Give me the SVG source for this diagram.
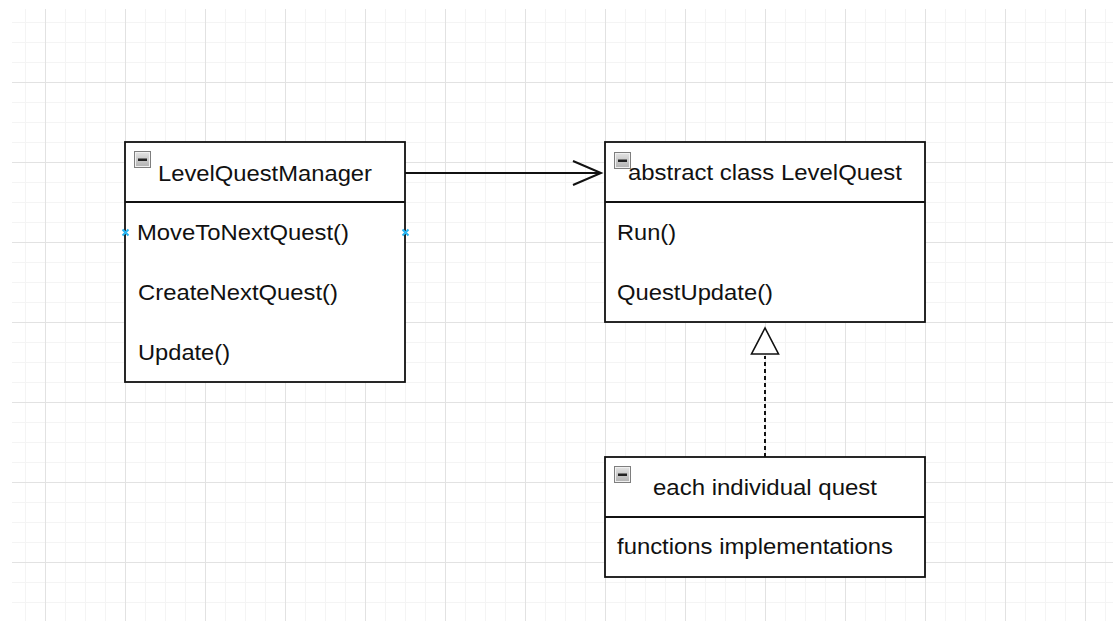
<svg xmlns="http://www.w3.org/2000/svg" width="1113" height="621" viewBox="0 0 1113 621">
  <defs>
    <pattern id="grid" patternUnits="userSpaceOnUse" x="45" y="2" width="80" height="80">
      <rect x="20" y="0" width="1" height="80" fill="#f4f4f4"/>
      <rect x="40" y="0" width="1" height="80" fill="#f4f4f4"/>
      <rect x="60" y="0" width="1" height="80" fill="#f4f4f4"/>
      <rect x="0" y="20" width="80" height="1" fill="#f4f4f4"/>
      <rect x="0" y="40" width="80" height="1" fill="#f4f4f4"/>
      <rect x="0" y="60" width="80" height="1" fill="#f4f4f4"/>
      <rect x="0" y="0" width="1" height="80" fill="#e2e2e2"/>
      <rect x="0" y="0" width="80" height="1" fill="#e2e2e2"/>
    </pattern>
    <linearGradient id="iconGrad" x1="0" y1="0" x2="0" y2="1">
      <stop offset="0" stop-color="#e4e4e4"/>
      <stop offset="1" stop-color="#b0b0b0"/>
    </linearGradient>
    <g id="collapse">
      <rect x="0.5" y="0.5" width="16" height="16" fill="url(#iconGrad)" stroke="#7e7e7e" stroke-width="1"/>
      <rect x="1.5" y="1.5" width="14" height="14" fill="none" stroke="#f0f0f0" stroke-width="1"/>
      <rect x="4" y="7.5" width="9" height="2.5" fill="#222222"/>
    </g>
    <marker id="openArrow" markerUnits="userSpaceOnUse" markerWidth="32" markerHeight="30" refX="29" refY="13" orient="auto">
      <path d="M1,1 L29,13 L1,25" fill="none" stroke="#111" stroke-width="2"/>
    </marker>
  </defs>
  <style>
    .box { fill: #ffffff; stroke: #111111; stroke-width: 1.8; }
    .div { stroke: #111111; stroke-width: 1.8; }
    .t { font-family: "Liberation Sans", Arial, sans-serif; font-size: 22px; fill: #111111; }
    .conn { fill: none; stroke: #111111; stroke-width: 2; }
    .dash { stroke-dasharray: 4 3; }
    .pt { stroke: #29b6f2; stroke-width: 2; fill: none; }
  </style>

  <rect x="0" y="0" width="1113" height="621" fill="#ffffff"/>
  <rect x="12" y="9" width="1101" height="612" fill="url(#grid)"/>

  <g id="connectors">
    <line class="conn" x1="405" y1="173" x2="601" y2="173" marker-end="url(#openArrow)"/>
    <line class="conn dash" x1="765" y1="457" x2="765" y2="356"/>
    <path d="M765,328 L751.5,354 L778.5,354 Z" fill="#ffffff" stroke="#111111" stroke-width="1.6"/>
  </g>

  <g id="LevelQuestManager">
    <rect class="box" x="125" y="142" width="280" height="240"/>
    <line class="div" x1="125" y1="202" x2="405" y2="202"/>
    <use href="#collapse" x="134" y="151"/>
    <text class="t" x="158" y="181" textLength="214" lengthAdjust="spacingAndGlyphs">LevelQuestManager</text>
    <text class="t" x="137" y="240" textLength="212" lengthAdjust="spacingAndGlyphs">MoveToNextQuest()</text>
    <text class="t" x="138" y="300" textLength="200" lengthAdjust="spacingAndGlyphs">CreateNextQuest()</text>
    <text class="t" x="138" y="360" textLength="92" lengthAdjust="spacingAndGlyphs">Update()</text>
  </g>

  <g id="connection-points">
    <path class="pt" d="M122.5,229.5 L128.5,235.5 M128.5,229.5 L122.5,235.5"/>
    <path class="pt" d="M402.5,229.5 L408.5,235.5 M408.5,229.5 L402.5,235.5"/>
  </g>

  <g id="LevelQuest">
    <rect class="box" x="605" y="142" width="320" height="180"/>
    <line class="div" x1="605" y1="202" x2="925" y2="202"/>
    <text class="t" x="628" y="180" textLength="274" lengthAdjust="spacingAndGlyphs">abstract class LevelQuest</text>
    <use href="#collapse" x="614" y="152"/>
    <text class="t" x="617" y="240" textLength="59" lengthAdjust="spacingAndGlyphs">Run()</text>
    <text class="t" x="617" y="300" textLength="156" lengthAdjust="spacingAndGlyphs">QuestUpdate()</text>
  </g>

  <g id="IndividualQuest">
    <rect class="box" x="605" y="457" width="320" height="120"/>
    <line class="div" x1="605" y1="517" x2="925" y2="517"/>
    <use href="#collapse" x="614" y="466"/>
    <text class="t" x="653" y="495" textLength="224" lengthAdjust="spacingAndGlyphs">each individual quest</text>
    <text class="t" x="617" y="554" textLength="276" lengthAdjust="spacingAndGlyphs">functions implementations</text>
  </g>
</svg>
